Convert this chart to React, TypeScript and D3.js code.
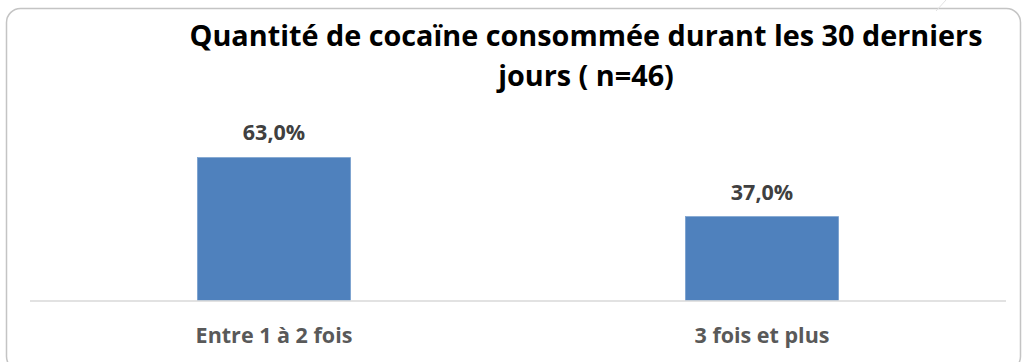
import React from "react";
import * as d3 from "d3";

const categories = ["Entre 1 à 2 fois", "3 fois et plus"];
const values = [63.0, 37.0];
const titleLines = ["Quantité de cocaïne consommée durant les 30 derniers", "jours ( n=46)"];

const W = 1023;
const H = 362;
const FONT = "'Open Sans', 'Liberation Sans', sans-serif";

export default function App() {
  const x = d3.scaleBand<string>().domain(categories).range([30, 1006]).paddingInner(0.686).paddingOuter(0.343);
  const y = d3.scaleLinear().domain([0, 70]).range([300.5, 300.5 - 70 * 2.27]);
  const fmt = (v: number) => v.toFixed(1).replace(".", ",") + "%";

  return (
    <svg width={W} height={H} style={{ position: "absolute", left: 0, top: 0, background: "#fff" }} fontFamily={FONT}>
      <rect x={6.5} y={8.5} width={1014} height={362} rx={14} fill="#fff" stroke="#c4c4c4" strokeWidth={1.5} />
      <line x1={946} y1={0} x2={936} y2={11} stroke="#e2e2e2" strokeWidth={1} />
      {titleLines.map((t, i) => (
        <text key={i} x={586} y={46 + i * 40} textAnchor="middle" fontSize={28.8} fontWeight="bold" fill="#000">
          {t}
        </text>
      ))}
      {categories.map((c, i) => {
        const bx = x(c)!;
        const bw = x.bandwidth();
        return (
          <g key={c}>
            <rect x={bx} y={y(values[i])} width={bw} height={y(0) - y(values[i])} fill="#4f81bd" stroke="#6d97c9" strokeWidth={0.5} />
            <text x={bx + bw / 2} y={y(values[i]) - 17} textAnchor="middle" fontSize={21.5} fontWeight="bold" fill="#404040">
              {fmt(values[i])}
            </text>
            <text x={bx + bw / 2} y={343} textAnchor="middle" fontSize={21.5} fontWeight="bold" fill="#595959">
              {c}
            </text>
          </g>
        );
      })}
      <line x1={30} x2={1006} y1={y(0) + 0.5} y2={y(0) + 0.5} stroke="#d9d9d9" strokeWidth={1.5} />
    </svg>
  );
}
